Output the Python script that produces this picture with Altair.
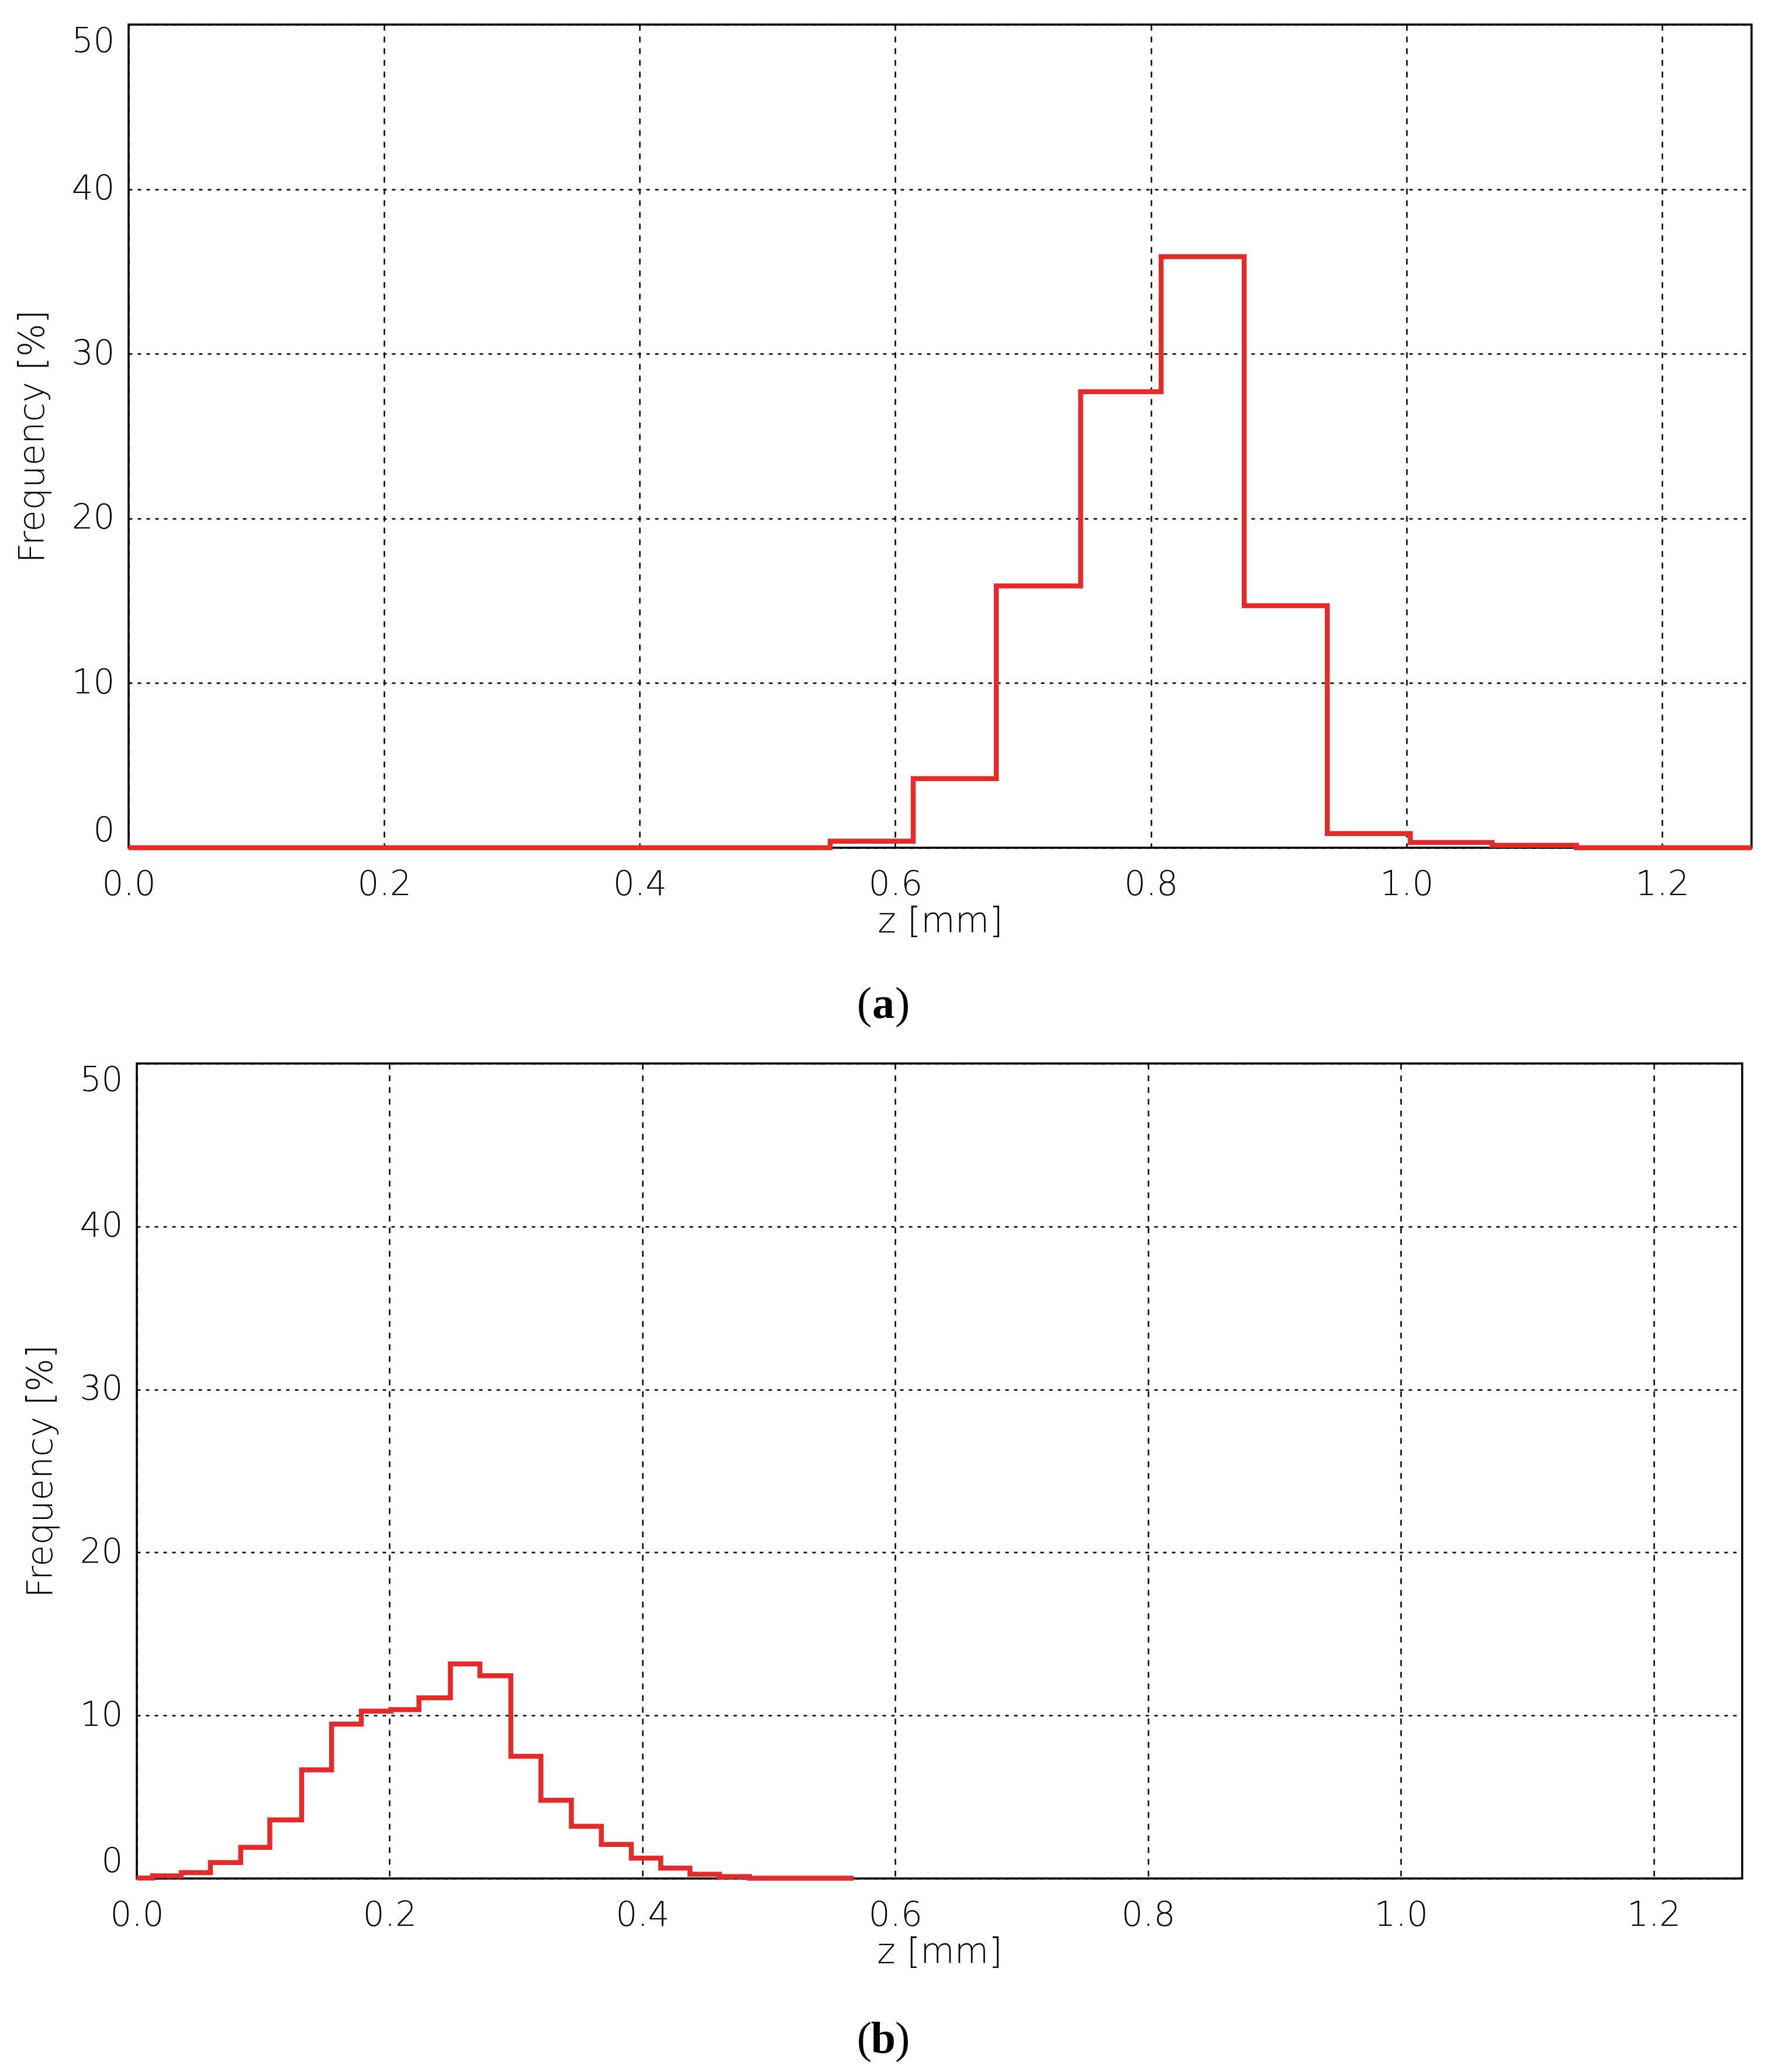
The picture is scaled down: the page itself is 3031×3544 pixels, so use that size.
import altair as alt
import pandas as pd

# ---- data ----
# panel (a): bin left edges (mm) and frequency (%) ; step-after
a_z = [0.0, 0.549, 0.614, 0.679, 0.745, 0.808, 0.873, 0.938, 1.003, 1.067, 1.133, 1.27]
a_freq = [0.0, 0.4, 4.2, 15.9, 27.7, 35.9, 14.7, 0.86, 0.32, 0.15, 0.0, 0.0]

# panel (b)
b_z = [0.0, 0.0125, 0.0352, 0.0582, 0.0822, 0.1052, 0.1304, 0.1541, 0.1776, 0.2011,
       0.2232, 0.2481, 0.2714, 0.2959, 0.3197, 0.3438, 0.3675, 0.3912, 0.4145, 0.4376,
       0.4608, 0.4846, 0.5672]
b_freq = [0.03, 0.16, 0.36, 0.98, 1.91, 3.6, 6.66, 9.47, 10.27, 10.36,
          11.08, 13.16, 12.44, 7.5, 4.8, 3.2, 2.09, 1.25, 0.64, 0.26,
          0.12, 0.02, 0.02]

x_ticks = [0.0, 0.2, 0.4, 0.6, 0.8, 1.0, 1.2]
y_ticks = [0, 10, 20, 30, 40, 50]
x_title = "z [mm]"
y_title = "Frequency [%]"

RED = "#e32b2b"
FONT = "DejaVu Sans"
SERIF = "Liberation Serif"


def panel(z, freq, w, h, letter, cap_x, cap_y, inset=0):
    df = pd.DataFrame({"z": z, "freq": freq})
    x = alt.X(
        "z:Q",
        scale=alt.Scale(domain=[0, 1.27], nice=False, zero=False, range=[inset, w]),
        axis=alt.Axis(values=x_ticks, format=".1f", title=x_title,
                      labelFlush=False, labelPadding=34, titlePadding=5,
                      gridDash=[10, 10]),
    )
    y = alt.Y(
        "freq:Q",
        scale=alt.Scale(domain=[0, 50], nice=False),
        axis=alt.Axis(values=y_ticks, format="d", title=y_title,
                      labelFlush=True, labelPadding=24, titlePadding=35,
                      gridDash=[6, 9], offset=-inset),
    )
    cap_df = pd.DataFrame({"t": [letter]})
    base = alt.Chart(cap_df)

    frame = base.mark_rect(fill="white", fillOpacity=0, stroke="black",
                           strokeWidth=3.5).encode(
        x=alt.value(inset), x2=alt.value(w), y=alt.value(0), y2=alt.value(h))

    line = alt.Chart(df).mark_line(
        interpolate="step-after", color=RED, strokeWidth=8.5,
        strokeJoin="miter", strokeCap="butt"
    ).encode(x=x, y=y)

    c_mid = base.mark_text(font=SERIF, fontSize=76, fontWeight="bold",
                           align="center", baseline="alphabetic", color="black").encode(
        text="t:N", x=alt.value(cap_x), y=alt.value(cap_y))
    c_l = base.mark_text(text="(", font=SERIF, fontSize=76, align="right",
                         baseline="alphabetic", color="black").encode(
        x=alt.value(cap_x - 20), y=alt.value(cap_y))
    c_r = base.mark_text(text=")", font=SERIF, fontSize=76, align="left",
                         baseline="alphabetic", color="black").encode(
        x=alt.value(cap_x + 20), y=alt.value(cap_y))
    return alt.layer(frame, line, c_l, c_mid, c_r).properties(width=w, height=h)


top = panel(a_z, a_freq, 2776, 1408, "a", 1291, 1699)
bottom = panel(b_z, b_freq, 2760, 1394, "b", 1291, 1692, inset=14)

chart = alt.vconcat(top, bottom, spacing=61).properties(
    padding={"left": 18, "top": 32, "right": 5, "bottom": 5}
).configure(
    background="white"
).configure_view(
    strokeOpacity=0
).configure_axis(
    domain=False, ticks=False, grid=True, gridColor="black", gridWidth=2.5,
    gridOpacity=1,
    labelFont=FONT, labelFontSize=58, labelColor="black", labelFontWeight=200,
    titleFont=FONT, titleFontSize=60, titleColor="black", titleFontWeight=200,
)

chart.save("out.html", embed_options={"renderer": "svg", "actions": False})
